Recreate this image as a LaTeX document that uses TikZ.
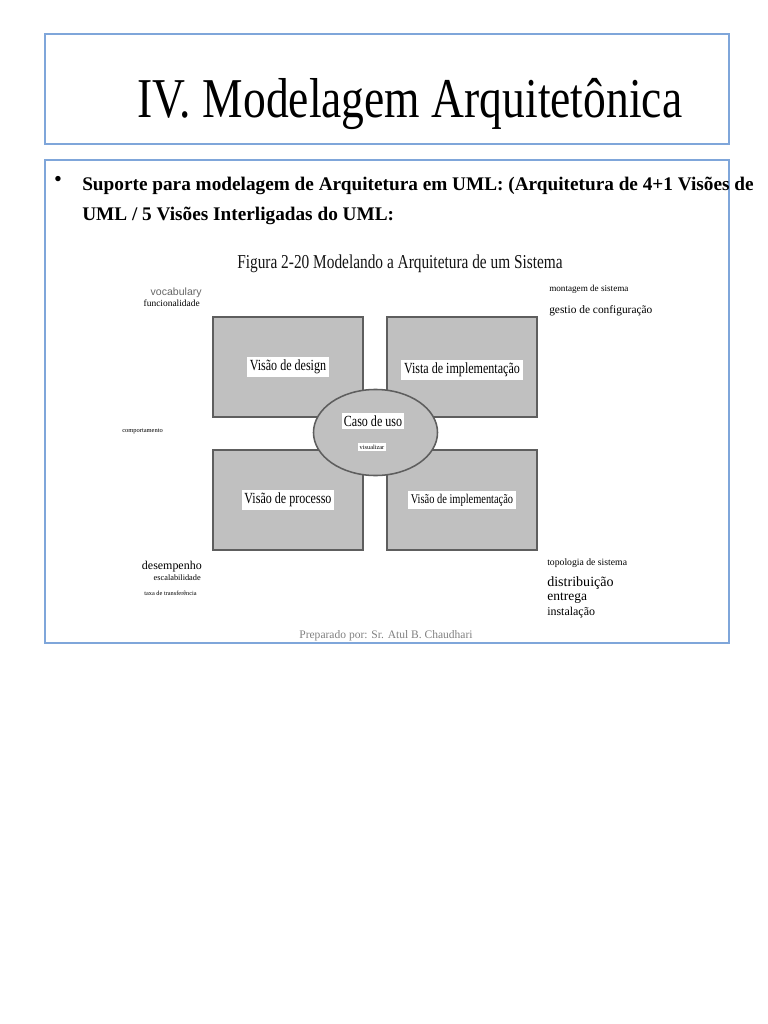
\documentclass[tikz,border=0pt]{standalone}
\usepackage{fontspec}
\setmainfont{Liberation Serif}
\newfontfamily\titlefont[FakeStretch=0.81]{Liberation Serif}
\newfontfamily\figfont[FakeStretch=0.78]{Liberation Serif}
\newfontfamily\notesans{Liberation Sans}
\definecolor{FrameBlue}{HTML}{7FA6DA}
\definecolor{ViewGray}{HTML}{C0C0C0}
\definecolor{ViewBorder}{HTML}{5E5E5E}
\definecolor{NoteGray}{HTML}{666666}
\usetikzlibrary{shapes.geometric}
\tikzset{
  slideframe/.style={draw=FrameBlue, line width=0.8pt},
  viewbox/.style={draw=ViewBorder, fill=ViewGray, line width=1pt, minimum width=3.75cm, minimum height=2.5cm, inner sep=0pt},
  viewlabel/.style={fill=white, inner sep=2pt, font=\figfont\fontsize{11}{12}\selectfont},
  usecase/.style={ellipse, draw=ViewBorder, fill=ViewGray, line width=1.1pt, minimum width=3.1cm, minimum height=2.15cm, inner sep=0pt},
  note/.style={inner sep=0pt, align=left},
  bullettext/.style={inner sep=0pt, anchor=base west, font=\bfseries\fontsize{13.7}{16}\selectfont}
}

\begin{document}
\begin{tikzpicture}[x=0.025cm,y=-0.025cm]
  \useasboundingbox (0,0) rectangle (768,1024);

  % title slide frame
  \draw[slideframe] (45,34) rectangle (729,144);
  \node[inner sep=0pt, anchor=base, font=\titlefont\fontsize{40}{44}\selectfont] (title) at (410,118)
    {IV. Modelagem Arquitetônica};

  % content frame
  \draw[slideframe] (45,160) rectangle (729,643);
  \node[inner sep=0pt, anchor=base, font=\fontsize{16}{18}\selectfont] (dot) at (58,187) {•};
  \node[bullettext] (lineA) at (82,191)
    {Suporte para modelagem de Arquitetura em UML: (Arquitetura de 4+1 Visões de};
  \node[bullettext] (lineB) at (82,221) {UML / 5 Visões Interligadas do UML:};

  \node[inner sep=0pt, anchor=base, text=black!92, font=\figfont\fontsize{14}{16}\selectfont] (caption) at (400,268)
    {Figura 2-20 Modelando a Arquitetura de um Sistema};

  % the four views and the use case
  \node[viewbox] (design) at (288,367) {};
  \node[viewbox] (implA) at (462,367) {};
  \node[viewbox] (process) at (288,500) {};
  \node[viewbox] (implB) at (462,500) {};
  \node[usecase] (usecase) at (375.5,432.5) {};

  \node[viewlabel] (designL) at (design.center) {Visão de design};
  \node[viewlabel] (implAL) at ([yshift=-2]implA.center) {Vista de implementação};
  \node[viewlabel] (processL) at (process.center) {Visão de processo};
  \node[viewlabel, font=\figfont\fontsize{9.5}{11}\selectfont] (implBL) at (implB.center) {Visão de implementação};
  \node[viewlabel, inner sep=1.5pt] (usecaseL) at (373,421) {Caso de uso};
  \node[fill=white, inner sep=1.5pt, font=\fontsize{4.5}{5}\selectfont] (visL) at (372,447) {visualizar};

  % side notes
  \node[note, anchor=base east, text=NoteGray, font=\notesans\fontsize{7.5}{8}\selectfont] (vocab) at (202,295) {vocabulary};
  \node[note, anchor=base east, font=\fontsize{6.7}{7}\selectfont] (func) at (200,306) {funcionalidade};
  \node[note, anchor=base west, font=\fontsize{4.6}{5}\selectfont] (behav) at (122,432) {comportamento};

  \node[note, anchor=base east, font=\fontsize{8.5}{9}\selectfont] (perf) at (202,569) {desempenho};
  \node[note, anchor=base east, font=\fontsize{5.9}{6}\selectfont] (scal) at (201,580) {escalabilidade};
  \node[note, anchor=base east, font=\fontsize{4.5}{5}\selectfont] (rate) at (197,595) {taxa de transferência};

  \node[note, anchor=base west, font=\fontsize{6.5}{7}\selectfont] (assembly) at (549,291) {montagem de sistema};
  \node[note, anchor=base west, font=\fontsize{8.1}{9}\selectfont] (config) at (549,313) {gestio de configuração};

  \node[note, anchor=base west, font=\fontsize{6.9}{7}\selectfont] (topo) at (547,565) {topologia de sistema};
  \node[note, anchor=base west, font=\fontsize{10}{11}\selectfont] (distr) at (547,586) {distribuição};
  \node[note, anchor=base west, font=\fontsize{9.6}{10}\selectfont] (deliv) at (547,600) {entrega};
  \node[note, anchor=base west, font=\fontsize{8.5}{9}\selectfont] (inst) at (547,615) {instalação};

  \node[inner sep=0pt, anchor=base, text=black!50, font=\fontsize{8.2}{9}\selectfont] (author) at (386,638)
    {Preparado por: Sr. Atul B. Chaudhari};
\end{tikzpicture}
\end{document}
